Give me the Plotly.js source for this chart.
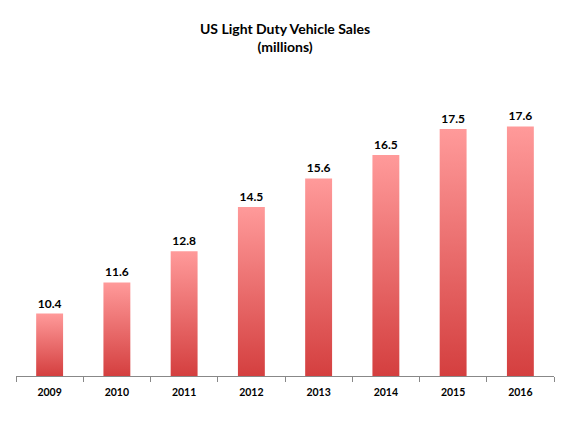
<!DOCTYPE html>
<html><head><meta charset="utf-8">
<script src="https://cdn.plot.ly/plotly-3.0.1.min.js"></script>
<style>html,body{margin:0;padding:0;background:#fff}#chart{width:570px;height:427px}</style>
</head><body><div id="chart"></div>
<script>
var years = ['2009','2010','2011','2012','2013','2014','2015','2016'];
var sales = [10.4, 11.6, 12.8, 14.5, 15.6, 16.5, 17.5, 17.6];

var fontFam = 'Lato, "Open Sans", sans-serif';
var trace = {
  type: 'bar', x: years, y: sales,
  text: sales.map(function(v){return '<b>' + v.toFixed(1) + '</b>';}),
  textposition: 'outside', cliponaxis: false,
  textfont: {family: fontFam, size: 12, color: '#000'},
  marker: {color: '#EE6E6E', line: {width: 0}},
  hoverinfo: 'none'
};
var layout = {
  width: 570, height: 427,
  margin: {l: 16, r: 16, t: 64, b: 51},
  paper_bgcolor: '#fff', plot_bgcolor: '#fff',
  bargap: 0.6,
  showlegend: false,
  title: {text: '<b>US Light Duty Vehicle Sales<br>(millions)</b>', x: 0.5, xanchor: 'center', y: 0.92, yanchor: 'top',
          font: {family: fontFam, size: 14, color: '#000'}},
  xaxis: {type: 'category', showline: true, linecolor: '#888', linewidth: 1, showgrid: false, zeroline: false,
          ticks: 'outside', ticklen: 5, tickcolor: '#888', tickson: 'boundaries',
          tickfont: {family: fontFam, size: 10.5, color: '#000', weight: 'bold'}, ticklabelstandoff: 6},
  yaxis: {range: [8, 20], visible: false, showgrid: false, zeroline: false}
};
Plotly.newPlot('chart', [trace], layout, {staticPlot: true}).then(function(gd){
  var svg = gd.querySelector('svg.main-svg');
  var ns = 'http://www.w3.org/2000/svg';
  var defs = svg.querySelector('defs') || svg.insertBefore(document.createElementNS(ns,'defs'), svg.firstChild);
  var bottom = gd._fullLayout.yaxis._length;
  gd.querySelectorAll('.bars .point path').forEach(function(p, i){
    var bb = p.getBBox();
    var g = document.createElementNS(ns, 'linearGradient');
    g.setAttribute('id', 'barGrad' + i);
    g.setAttribute('gradientUnits', 'userSpaceOnUse');
    g.setAttribute('x1', '0'); g.setAttribute('x2', '0');
    g.setAttribute('y1', String(bb.y)); g.setAttribute('y2', String(bottom));
    [['0','#FF9A9A'],['1','#D43F3F']].forEach(function(s){
      var st = document.createElementNS(ns,'stop'); st.setAttribute('offset', s[0]); st.setAttribute('stop-color', s[1]); g.appendChild(st);
    });
    defs.appendChild(g);
    p.style.fill = 'url(#barGrad' + i + ')';
  });
});
</script></body></html>
